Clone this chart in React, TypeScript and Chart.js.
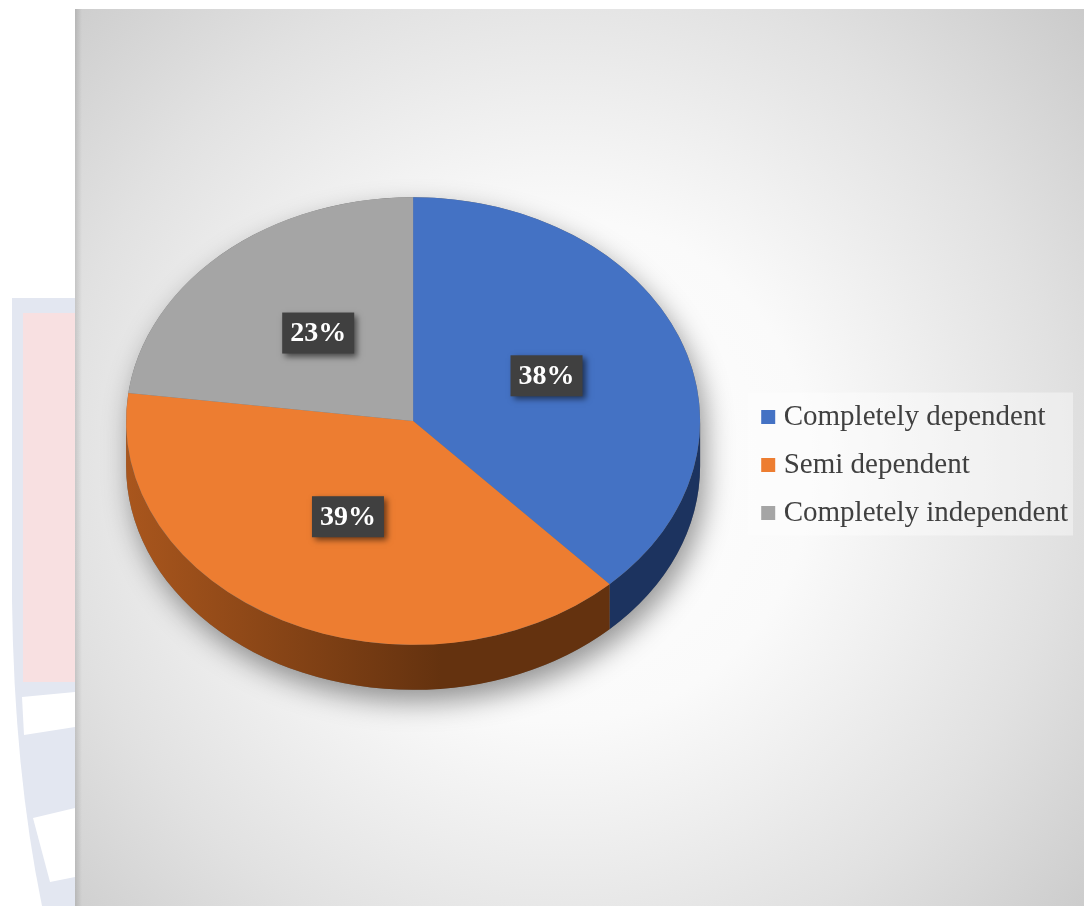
import React, { useEffect, useRef } from "react";
import { Chart, registerables } from "chart.js";

Chart.register(...registerables);

// ---- data ----
const categories = ["Completely dependent", "Semi dependent", "Completely independent"];
const shares = [38, 39, 23];

// ---- styles ----
const topColors = ["#4472C4", "#ED7D31", "#A5A5A5"];
const sideEdge = ["#24407a", "#a9561d", "#8a8a8a"];
const sideCore = ["#1c335f", "#64320f", "#606060"];

const TILT = 0.78; // vertical squash of the pie (3-D view)
const DEPTH = 45; // thickness of the pie
const LIFT = -44; // vertical offset of projected pie vs. layout centre
const SERIF = '"Liberation Serif", "Times New Roman", serif';

const pie3d = {
  id: "pie3d",
  beforeDraw(chart: any) {
    const { ctx, width, height } = chart;
    ctx.save();
    ctx.fillStyle = "#ffffff";
    ctx.fillRect(0, 0, width, height);

    // faint watermark on the page, left of the panel
    ctx.fillStyle = "#e3e7f1";
    ctx.beginPath();
    ctx.moveTo(12, 298);
    ctx.lineTo(75, 298);
    ctx.lineTo(75, height);
    ctx.lineTo(42, height);
    ctx.quadraticCurveTo(14, 770, 12, 600);
    ctx.closePath();
    ctx.fill();
    ctx.fillStyle = "#f8e0e1";
    ctx.fillRect(23, 313, 52, 369);
    ctx.fillStyle = "#ffffff";
    ctx.beginPath();
    ctx.moveTo(22, 697);
    ctx.lineTo(75, 692);
    ctx.lineTo(75, 727);
    ctx.lineTo(24, 735);
    ctx.closePath();
    ctx.fill();
    ctx.beginPath();
    ctx.moveTo(33, 818);
    ctx.lineTo(75, 808);
    ctx.lineTo(75, 877);
    ctx.lineTo(50, 882);
    ctx.closePath();
    ctx.fill();

    // chart panel with radial gradient
    const g = ctx.createRadialGradient(560, 470, 0, 560, 470, 720);
    g.addColorStop(0, "#ffffff");
    g.addColorStop(0.35, "#fafafa");
    g.addColorStop(0.7, "#e1e1e1");
    g.addColorStop(1, "#c8c8c8");
    ctx.fillStyle = g;
    ctx.fillRect(75, 9, width - 75, height - 9);
    const lg = ctx.createLinearGradient(75, 0, 82, 0);
    lg.addColorStop(0, "rgba(0,0,0,0.12)");
    lg.addColorStop(1, "rgba(0,0,0,0)");
    ctx.fillStyle = lg;
    ctx.fillRect(75, 9, 7, height - 9);

    // legend backdrop
    const lgd = chart.legend;
    if (lgd && lgd.legendHitBoxes && lgd.legendHitBoxes.length) {
      const hb = lgd.legendHitBoxes;
      const top = hb[0].top - 10;
      const last = hb[hb.length - 1];
      const bottom = last.top + last.height + 8;
      ctx.fillStyle = "rgba(255,255,255,0.4)";
      ctx.fillRect(lgd.left, top, lgd.right - lgd.left - 5, bottom - top);
    }
    ctx.restore();
  },
  beforeDatasetsDraw(chart: any) {
    const { ctx } = chart;
    const meta = chart.getDatasetMeta(0);
    const arcs = meta.data;
    if (!arcs.length) return;
    const { x: cx, y: cyC, outerRadius: r } = arcs[0].getProps(["x", "y", "outerRadius"], true);
    const cy = cyC + LIFT;
    const ry = r * TILT;

    // soft drop shadow of the whole pie body
    ctx.save();
    ctx.shadowColor = "rgba(0,0,0,0.42)";
    ctx.shadowBlur = 28;
    ctx.shadowOffsetX = 5;
    ctx.shadowOffsetY = 12;
    ctx.fillStyle = "#707070";
    ctx.beginPath();
    ctx.ellipse(cx, cy, r, ry, 0, Math.PI, 2 * Math.PI);
    ctx.lineTo(cx + r, cy + DEPTH);
    ctx.ellipse(cx, cy + DEPTH, r, ry, 0, 0, Math.PI);
    ctx.closePath();
    ctx.fill();
    ctx.restore();

    // side walls (front half only)
    arcs.forEach((arc: any, i: number) => {
      const { startAngle, endAngle } = arc.getProps(["startAngle", "endAngle"], true);
      for (let k = -1; k <= 1; k++) {
        const s = Math.max(startAngle + 2 * Math.PI * k, 0);
        const e = Math.min(endAngle + 2 * Math.PI * k, Math.PI);
        if (e <= s) continue;
        const grad = ctx.createLinearGradient(cx - r, 0, cx + r, 0);
        grad.addColorStop(0, sideEdge[i]);
        grad.addColorStop(0.55, sideCore[i]);
        grad.addColorStop(1, sideCore[i]);
        ctx.save();
        ctx.fillStyle = grad;
        ctx.beginPath();
        ctx.ellipse(cx, cy, r, ry, 0, s, e);
        ctx.lineTo(cx + r * Math.cos(e), cy + DEPTH + ry * Math.sin(e));
        ctx.ellipse(cx, cy + DEPTH, r, ry, 0, e, s, true);
        ctx.closePath();
        ctx.fill();
        ctx.restore();
      }
    });

    // project the top face
    ctx.save();
    ctx.translate(0, cy);
    ctx.scale(1, TILT);
    ctx.translate(0, -cyC);
  },
  afterDatasetsDraw(chart: any) {
    const { ctx } = chart;
    ctx.restore();
    const meta = chart.getDatasetMeta(0);
    const arcs = meta.data;
    if (!arcs.length) return;
    const { y: cyC } = arcs[0].getProps(["y"], true);
    const cy = cyC + LIFT;
    const values: number[] = chart.data.datasets[0].data;
    const total = values.reduce((a, b) => a + b, 0);
    arcs.forEach((arc: any, i: number) => {
      const p = arc.tooltipPosition(true);
      const x = p.x;
      const y = cy + (p.y - cyC) * TILT - 4;
      const text = Math.round((values[i] / total) * 100) + "%";
      ctx.save();
      ctx.font = `bold 28px ${SERIF}`;
      const w = ctx.measureText(text).width + 16;
      const h = 41;
      ctx.shadowColor = "rgba(0,0,0,0.55)";
      ctx.shadowBlur = 6;
      ctx.shadowOffsetX = 3;
      ctx.shadowOffsetY = 3;
      ctx.fillStyle = "#404040";
      ctx.fillRect(x - w / 2, y - h / 2, w, h);
      ctx.shadowColor = "rgba(0,0,0,0)";
      ctx.fillStyle = "#ffffff";
      ctx.textAlign = "center";
      ctx.textBaseline = "middle";
      ctx.fillText(text, x, y + 1);
      ctx.restore();
    });
  },
};

export default function App() {
  const ref = useRef<HTMLCanvasElement>(null);
  useEffect(() => {
    const chart = new Chart(ref.current as HTMLCanvasElement, {
      type: "pie",
      data: {
        labels: categories,
        datasets: [
          {
            data: shares,
            backgroundColor: topColors,
            borderWidth: 0,
            radius: 287,
            clip: false,
          } as any,
        ],
      },
      options: {
        responsive: false,
        animation: false,
        events: [],
        devicePixelRatio: 1,
        layout: { padding: { left: 78, right: 6, top: 24, bottom: 0 } },
        plugins: {
          tooltip: { enabled: false },
          legend: {
            position: "right",
            labels: {
              usePointStyle: true,
              pointStyle: "rect",
              boxWidth: 2,
              boxHeight: 14,
              padding: 19,
              color: "#404040",
              font: { family: SERIF, size: 29 },
            },
          },
        },
      } as any,
      plugins: [pie3d],
    });
    return () => chart.destroy();
  }, []);
  return (
    <div style={{ position: "absolute", left: 0, top: 0, width: 1084, height: 906 }}>
      <canvas ref={ref} width={1084} height={906} style={{ display: "block" }} />
    </div>
  );
}
